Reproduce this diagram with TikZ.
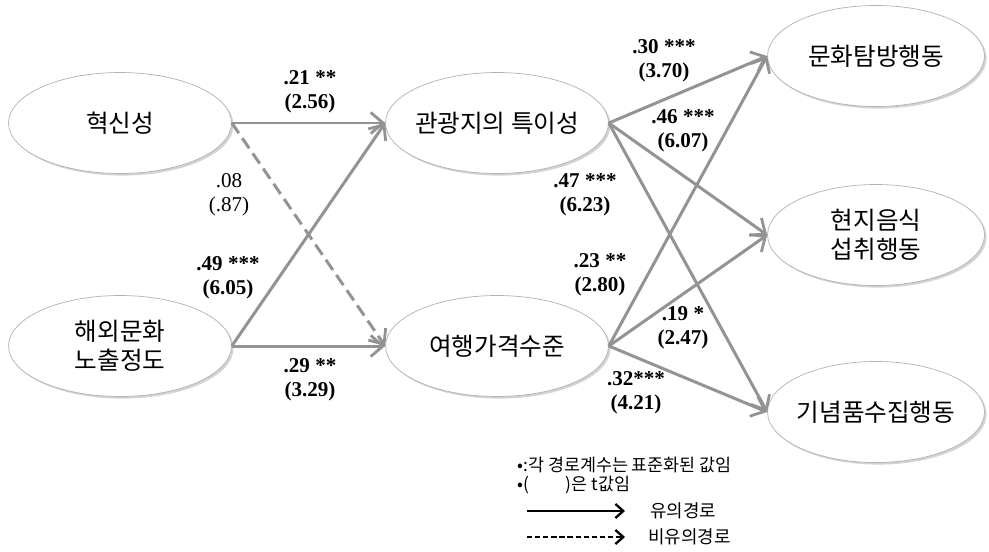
\documentclass[tikz,border=0pt]{standalone}
\usepackage{fontspec}
\setmainfont{Liberation Serif}[BoldFont={Liberation Serif Bold}]
\newfontfamily\kr{Noto Sans CJK KR}
\usepackage{tikz}
\usetikzlibrary{shapes.geometric, arrows.meta, positioning, shadows}

\begin{document}
\begin{tikzpicture}[x=0.02cm, y=-0.02cm,
    construct/.style={ellipse, draw=gray!60, fill=white, minimum width=4.46cm, minimum height=2.02cm, inner sep=0pt,
        drop shadow={shadow xshift=1.2pt, shadow yshift=-1.2pt, opacity=0.35},
        label={[align=center, font=\kr\fontsize{14}{16.5}\selectfont]center:#1}},
    sigpath/.style={-{Straight Barb[length=7pt, width=12pt, line width=1.6pt]}, line width=1.7pt, color=gray!85},
    nspath/.style={sigpath, dash pattern=on 7pt off 3.5pt},
    coef/.style={align=center, font=\bfseries\fontsize{12}{13.6}\selectfont},
    note/.style={anchor=west, font=\kr\fontsize{9.9}{11}\selectfont, inner sep=0pt},
    keylabel/.style={note, font=\kr\fontsize{10.2}{12}\selectfont},
    keyarrow/.style={-{Straight Barb[length=4.5pt, width=8pt, line width=1.3pt]}, line width=1.2pt}
]
\useasboundingbox (0,0) rectangle (989,551);

% constructs
\node[construct={혁신성}] (inno) at (120,123) {};
\node[construct={해외문화\\노출정도}] (expo) at (120,346) {};
\node[construct={관광지의 특이성}] (uniq) at (497,123) {};
\node[construct={여행가격수준}] (price) at (497,346) {};
\node[construct={문화탐방행동}, minimum width=4.34cm] (culture) at (876,56) {};
\node[construct={현지음식\\섭취행동}, minimum width=4.34cm] (food) at (876,235) {};
\node[construct={기념품수집행동}, minimum width=4.34cm] (souv) at (876,412) {};

% paths
\draw[sigpath] (inno.east) -- (uniq.west);
\draw[nspath]  (inno.east) -- (price.west);
\draw[sigpath] (expo.east) -- (uniq.west);
\draw[sigpath] (expo.east) -- (price.west);
\foreach \src in {uniq, price} {
    \foreach \dst in {culture, food, souv}
        \draw[sigpath] (\src.east) -- (\dst.west);
}

% coefficients
\node[coef] (c1)  at (310,92)  {.21 **\\(2.56)};
\node[coef, font=\fontsize{12}{13.6}\selectfont] (c2) at (229,195) {.08\\(.87)};
\node[coef] (c3)  at (228,278) {.49 ***\\(6.05)};
\node[coef] (c4)  at (310,380) {.29 **\\(3.29)};
\node[coef] (c5)  at (664,61)  {.30 ***\\(3.70)};
\node[coef] (c6)  at (683,131) {.46 ***\\(6.07)};
\node[coef] (c7)  at (585,195) {.47 ***\\(6.23)};
\node[coef] (c8)  at (600,275) {.23 **\\(2.80)};
\node[coef] (c9)  at (683,328) {.19 *\\(2.47)};
\node[coef] (c10) at (636,393) {.32***\\(4.21)};

% legend
\node[note] (note1) at (517,465) {•:각 경로계수는 표준화된 값임};
\node[note] (note2) at (517,485) {•(\hspace{2.1em})은 t값임};
\coordinate (s1) at (527,511);
\coordinate (s2) at (625,511);
\coordinate (n1) at (527,537);
\coordinate (n2) at (625,537);
\draw[keyarrow] (s1) -- (s2);
\draw[keyarrow, dash pattern=on 3pt off 1.6pt] (n1) -- (n2);
\node[keylabel] (lsig) at (650,511) {유의경로};
\node[keylabel] (lns)  at (648,537) {비유의경로};
\end{tikzpicture}
\end{document}
